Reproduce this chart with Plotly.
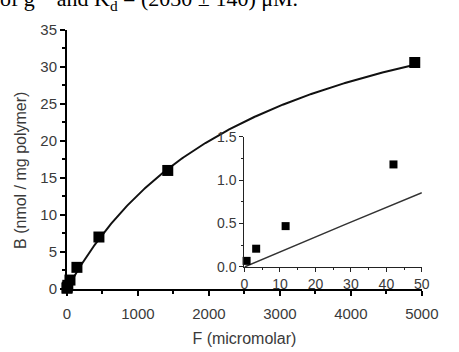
import numpy as np
import plotly.graph_objects as go

# Binding data: free concentration F (micromolar) vs bound B (nmol / mg polymer)
F_points = [0.6, 3.3, 11.6, 42, 140, 450, 1420, 4900]
B_points = [0.07, 0.21, 0.47, 1.18, 2.9, 7.0, 16.0, 30.6]

# Low-concentration region shown in the inset
F_low = [0.6, 3.3, 11.6, 42]
B_low = [0.07, 0.21, 0.47, 1.18]

# Single-site (Langmuir) fit parameters
B_MAX = 47.0   # nmol / mg polymer
K_D = 2700.0   # micromolar

main_ticks = [0, 1000, 2000, 3000, 4000, 5000]
main_yticks = [0, 5, 10, 15, 20, 25, 30, 35]
inset_xticks = [0, 10, 20, 30, 40, 50]
inset_yticks = [0.0, 0.5, 1.0, 1.5]
inset_ylabels = ["0.0", "0.5", "1.0", "1.5"]


def langmuir(f):
    f = np.asarray(f, dtype=float)
    return B_MAX * f / (K_D + f)


f_fit = np.linspace(0, max(F_points), 300)
f_fit_low = np.linspace(0, 50, 100)

SANS = "Liberation Sans, Arial, sans-serif"
TXT = "#3a3a3a"

fig = go.Figure()

fig.add_trace(go.Scatter(x=f_fit, y=langmuir(f_fit), mode="lines",
                         line=dict(color="#111", width=2),
                         xaxis="x", yaxis="y", hoverinfo="skip"))
fig.add_trace(go.Scatter(x=F_points, y=B_points, mode="markers",
                         marker=dict(symbol="square", size=11, color="#000"),
                         cliponaxis=False, xaxis="x", yaxis="y"))

fig.add_trace(go.Scatter(x=f_fit_low, y=langmuir(f_fit_low), mode="lines",
                         line=dict(color="#333", width=1.5),
                         xaxis="x2", yaxis="y2", hoverinfo="skip"))
fig.add_trace(go.Scatter(x=F_low, y=B_low, mode="markers",
                         marker=dict(symbol="square", size=8, color="#000"),
                         cliponaxis=False, xaxis="x2", yaxis="y2"))

axis_common = dict(showgrid=False, zeroline=False, showline=True,
                   ticks="outside", mirror=False)

fig.update_layout(
    width=459, height=352,
    margin=dict(l=0, r=0, t=0, b=0),
    paper_bgcolor="white",
    plot_bgcolor="rgba(0,0,0,0)",
    showlegend=False,
    xaxis=dict(**axis_common, domain=[0.1438, 0.954], range=[0, 5000],
               anchor="y", tickvals=main_ticks,
               linecolor="#000", linewidth=2, tickcolor="#000",
               ticklen=5, tickwidth=1.5, ticklabelstandoff=5,
               minor=dict(dtick=500, ticks="outside", ticklen=3, tickcolor="#000"),
               tickfont=dict(family=SANS, size=15, color=TXT),
               title=dict(text="F (micromolar)", standoff=12,
                          font=dict(family=SANS, size=16, color=TXT))),
    yaxis=dict(**axis_common, domain=[0.1648, 0.9375], range=[0, 35],
               anchor="x", tickvals=main_yticks,
               linecolor="#000", linewidth=2, tickcolor="#000",
               ticklen=5, tickwidth=1.5,
               minor=dict(dtick=2.5, ticks="outside", ticklen=3, tickcolor="#000"),
               tickfont=dict(family=SANS, size=15, color=TXT)),
    xaxis2=dict(**axis_common, domain=[0.549, 0.954], range=[0, 50],
                anchor="y2", tickvals=inset_xticks,
                linecolor="#222", linewidth=1.2, tickcolor="#222",
                ticklen=4, tickwidth=1,
                minor=dict(dtick=5, ticks="outside", ticklen=2, tickcolor="#222"),
                tickfont=dict(family=SANS, size=14, color=TXT)),
    yaxis2=dict(**axis_common, domain=[0.230, 0.619], range=[0, 1.5],
                anchor="x2", tickvals=inset_yticks, ticktext=inset_ylabels,
                linecolor="#222", linewidth=1.2, tickcolor="#222",
                ticklen=4, tickwidth=1,
                minor=dict(dtick=0.25, ticks="outside", ticklen=2, tickcolor="#222"),
                tickfont=dict(family=SANS, size=14, color=TXT)),
)

# Vertical axis title
fig.add_annotation(text="B (nmol / mg polymer)", xref="paper", yref="paper",
                   x=18 / 459, y=1 - 170 / 352, textangle=-90, showarrow=False,
                   xanchor="center", yanchor="middle",
                   font=dict(family=SANS, size=16, color=TXT))

# Running text line above the figure (runs off the top edge)
fig.add_annotation(text="of g<sup>\u22121</sup> and K<sub>d</sub> = (2030 \u00b1 140) \u03bcM.",
                   xref="paper", yref="paper", x=-6 / 459, y=1.031,
                   xanchor="left", yanchor="middle", showarrow=False,
                   font=dict(family="Liberation Serif, Times New Roman, serif",
                             size=22, color="#000"))

fig.write_html("out.html")
